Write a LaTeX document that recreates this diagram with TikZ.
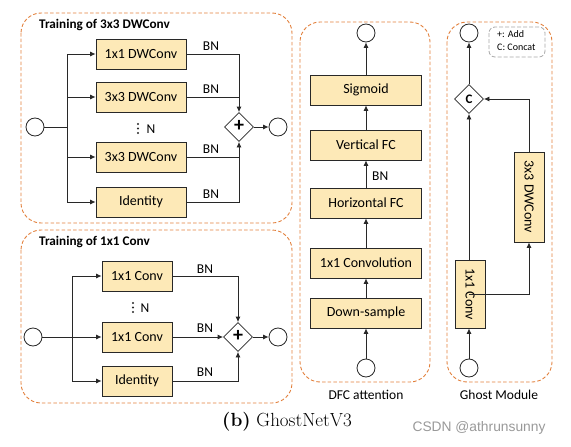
\documentclass[tikz,border=0pt]{standalone}
\usepackage{fontspec}
\newfontfamily\calfont{Carlito}
\newfontfamily\arialfont{Liberation Sans}
\usetikzlibrary{arrows.meta,shapes.geometric}
\definecolor{boxfill}{RGB}{253,233,183}
\definecolor{dashorange}{RGB}{226,128,60}
\definecolor{linegray}{RGB}{40,40,40}
\tikzset{
  blk/.style={draw=linegray, line width=0.8pt, fill=boxfill, minimum height=30pt, inner sep=0pt, font=\calfont\fontsize{14}{16}\selectfont},
  circ/.style={draw=linegray, line width=0.8pt, circle, minimum size=18pt, inner sep=0pt, fill=white},
  dmd/.style={draw=linegray, line width=0.8pt, diamond, minimum width=29pt, minimum height=29pt, inner sep=0pt, fill=white},
  conn/.style={draw=linegray, line width=0.8pt},
  arr/.style={conn, -{Latex[length=5.5pt,width=5pt]}},
  panel/.style={draw=dashorange, line width=0.9pt, dash pattern=on 3.5pt off 2.2pt, rounded corners=20pt},
  lbl/.style={font=\calfont\fontsize{13.5}{15}\selectfont, inner sep=0pt},
  ttl/.style={font=\calfont\bfseries\fontsize{13.2}{15}\selectfont, inner sep=0pt, anchor=west},
  vdot/.style={fill=linegray},
}
\begin{document}
\begin{tikzpicture}[x=1pt,y=-1pt]
\useasboundingbox (0,0) rectangle (571,447);
% ---------- Panel 1 ----------
\draw[panel] (21,13) rectangle (292,223);
\node[ttl] (t1) at (39,25) {Training of 3x3 DWConv};
\node[blk, minimum width=90pt] (a1) at (141,54) {1x1 DWConv};
\node[blk, minimum width=90pt] (a2) at (141,97) {3x3 DWConv};
\node[blk, minimum width=90pt] (a3) at (141,157) {3x3 DWConv};
\node[blk, minimum width=90pt] (a4) at (141,202) {Identity};
\node[circ] (ain) at (35,127) {};
\node[dmd] (ad) at (239,127) {};
\node[font=\calfont\bfseries\fontsize{20}{20}\selectfont, inner sep=0pt] (adp) at (239,126) {+};
\node[circ] (aout) at (278,127) {};
\fill[vdot] (138,124) circle (1.1pt) (138,128.5) circle (1.1pt) (138,133) circle (1.1pt);
\node[lbl] (aN) at (151,129) {N};
\coordinate (ab) at (67,127);
\coordinate (ab1) at (67,54);
\coordinate (ab4) at (67,202);
\draw[conn] (ain) -- (ab);
\draw[conn] (ab1) -- (ab4);
\draw[arr] (ab1) -- (a1.west);
\draw[arr] (a2.west -| ab) -- (a2.west);
\draw[arr] (a3.west -| ab) -- (a3.west);
\draw[arr] (ab4) -- (a4.west);
\draw[arr] (a1.east) -| (ad.north);
\draw[conn] (a2.east) -- (a2.east -| ad.north);
\draw[arr] (a3.east) -| (ad.south);
\draw[conn] (a4.east) -| (a3.east -| ad.south);
\draw[arr] (ad) -- (aout);
\node[lbl] (abn1) at (211,46) {BN};
\node[lbl] (abn2) at (211,89) {BN};
\node[lbl] (abn3) at (211,149) {BN};
\node[lbl] (abn4) at (211,194) {BN};
% ---------- Panel 2 ----------
\draw[panel] (21,230) rectangle (292,403);
\node[ttl] (t2) at (39,242) {Training of 1x1 Conv};
\node[blk, minimum width=70pt] (c1) at (137,276) {1x1 Conv};
\node[blk, minimum width=70pt] (c2) at (137,337) {1x1 Conv};
\node[blk, minimum width=70pt] (c3) at (137,381) {Identity};
\node[circ] (cin) at (33,337) {};
\node[dmd] (cd) at (238,337) {};
\node[font=\calfont\bfseries\fontsize{20}{20}\selectfont, inner sep=0pt] (cdp) at (238,336) {+};
\node[circ] (cout) at (278,337) {};
\fill[vdot] (133,303) circle (1.1pt) (133,307.5) circle (1.1pt) (133,312) circle (1.1pt);
\node[lbl] (cN) at (145,308) {N};
\coordinate (cb1) at (72,276);
\coordinate (cb3) at (72,381);
\draw[conn] (cb1) -- (cb3);
\draw[arr] (cin) -- (c2.west);
\draw[arr] (cb1) -- (c1.west);
\draw[arr] (cb3) -- (c3.west);
\draw[arr] (c1.east) -| (cd.north);
\draw[arr] (c2.east) -- (cd.west);
\draw[arr] (c3.east) -| (cd.south);
\draw[arr] (cd) -- (cout);
\node[lbl] (cbn1) at (205,269) {BN};
\node[lbl] (cbn2) at (205,328) {BN};
\node[lbl] (cbn3) at (205,372) {BN};
% ---------- Panel 3: DFC attention ----------
\draw[panel] (300,22) rectangle (430,382);
\node[circ] (dout) at (366,33) {};
\node[blk, minimum width=111pt] (d5) at (366,90) {Sigmoid};
\node[blk, minimum width=111pt] (d4) at (366,145) {Vertical FC};
\node[blk, minimum width=111pt] (d3) at (366,203) {Horizontal FC};
\node[blk, minimum width=111pt] (d2) at (366,263) {1x1 Convolution};
\node[blk, minimum width=111pt] (d1) at (366,313) {Down-sample};
\node[circ] (din) at (366,368) {};
\draw[arr] (din) -- (d1);
\draw[arr] (d1) -- (d2);
\draw[arr] (d2) -- (d3);
\draw[arr] (d3) -- (d4);
\draw[arr] (d4) -- (d5);
\draw[arr] (d5) -- (dout);
\node[lbl, anchor=west] (dbn) at (372,176) {BN};
\node[lbl] (dlab) at (366,395) {DFC attention};
% ---------- Panel 4: Ghost Module ----------
\draw[panel] (447,22) rectangle (552,382);
\draw[draw=black!35, line width=0.8pt, dash pattern=on 4pt off 2pt, rounded corners=6pt] (489,27) rectangle (545,57);
\node[font=\calfont\fontsize{10}{12}\selectfont, anchor=west, inner sep=0pt] (lg1) at (497,34) {+: Add};
\node[font=\calfont\fontsize{10}{12}\selectfont, anchor=west, inner sep=0pt] (lg2) at (497,47) {C: Concat};
\node[circ] (gout) at (469,33) {};
\node[dmd] (gd) at (469,99) {};
\node[font=\calfont\bfseries\fontsize{13}{13}\selectfont, inner sep=0pt] (gdc) at (469,99) {C};
\node[blk, minimum width=68pt, minimum height=30pt, rotate=-90] (g1) at (470,294) {1x1 Conv};
\node[blk, minimum width=90pt, minimum height=30pt, rotate=-90] (g2) at (529,197) {3x3 DWConv};
\node[circ] (gin) at (469,368) {};
\draw[arr] (gin) -- (gin |- g1.east);
\draw[arr] (gin |- g1.west) -- (gd.south);
\draw[arr] (gin |- g1.north) -| (g2.east);
\draw[arr] (g2.west) |- (gd.east);
\draw[arr] (gd) -- (gout);
\node[lbl] (glab) at (499,395) {Ghost Module};
% ---------- Caption ----------
\node[font=\fontsize{19}{21}\selectfont, inner sep=0pt] (cap) at (287,422) {\textbf{(b)} GhostNetV3};
\node[font=\arialfont\fontsize{13.8}{16}\selectfont, text=black!40, inner sep=0pt] (wm) at (479,428) {CSDN @athrunsunny};
\end{tikzpicture}
\end{document}
